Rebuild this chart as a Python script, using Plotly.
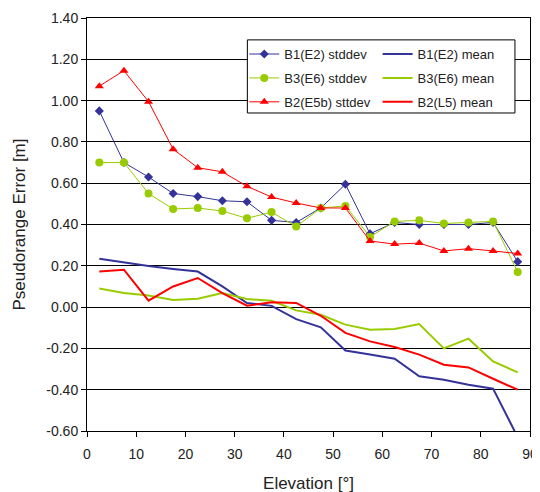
import plotly.graph_objects as go

elevation = [2.5, 7.5, 12.5, 17.5, 22.5, 27.5, 32.5, 37.5, 42.5, 47.5,
             52.5, 57.5, 62.5, 67.5, 72.5, 77.5, 82.5, 87.5]

b1_std = [0.95, 0.70, 0.63, 0.55, 0.535, 0.515, 0.51, 0.42, 0.41, 0.48,
          0.595, 0.355, 0.41, 0.40, 0.40, 0.40, 0.41, 0.22]
b3_std = [0.70, 0.70, 0.55, 0.475, 0.48, 0.465, 0.43, 0.46, 0.39, 0.48,
          0.49, 0.34, 0.415, 0.42, 0.405, 0.41, 0.415, 0.17]
b2_std = [1.07, 1.145, 0.995, 0.765, 0.675, 0.655, 0.585, 0.533, 0.504, 0.48,
          0.48, 0.32, 0.305, 0.31, 0.272, 0.283, 0.272, 0.259]

b1_mean = [0.234, 0.215, 0.199, 0.185, 0.172, 0.10, 0.02, 0.006, -0.058, -0.098,
           -0.21, -0.23, -0.25, -0.335, -0.352, -0.376, -0.395, -0.63]
b3_mean = [0.09, 0.068, 0.056, 0.034, 0.04, 0.068, 0.039, 0.031, -0.016, -0.037,
           -0.085, -0.11, -0.106, -0.082, -0.20, -0.153, -0.263, -0.316]
b2_mean = [0.173, 0.181, 0.031, 0.10, 0.141, 0.068, 0.007, 0.023, 0.02, -0.042,
           -0.125, -0.166, -0.193, -0.23, -0.279, -0.292, -0.347, -0.40]

y_ticks = [-0.6, -0.4, -0.2, 0.0, 0.2, 0.4, 0.6, 0.8, 1.0, 1.2, 1.4]
y_tick_text = ["-0.60", "-0.40", "-0.20", "0.00", "0.20", "0.40", "0.60",
               "0.80", "1.00", "1.20", "1.40"]
x_ticks = [0, 10, 20, 30, 40, 50, 60, 70, 80, 90]

BLUE = "#333399"
GREEN = "#99cc00"
RED = "#ff0000"

fig = go.Figure()
# stddev series -> legend (left column)
fig.add_trace(go.Scatter(x=elevation, y=b1_std, name="B1(E2) stddev", mode="lines+markers",
                         legend="legend", legendgroup="s1",
                         line=dict(color=BLUE, width=1),
                         marker=dict(symbol="diamond", size=7, color=BLUE)))
fig.add_trace(go.Scatter(x=elevation, y=b3_std, name="B3(E6) stddev", mode="lines+markers",
                         legend="legend", legendgroup="s2",
                         line=dict(color=GREEN, width=1),
                         marker=dict(symbol="circle", size=8, color=GREEN)))
fig.add_trace(go.Scatter(x=elevation, y=b2_std, name="B2(E5b) sttdev", mode="lines+markers",
                         legend="legend", legendgroup="s3",
                         line=dict(color=RED, width=1),
                         marker=dict(symbol="triangle-up", size=8, color=RED)))
# mean series -> legend2 (right column)
fig.add_trace(go.Scatter(x=elevation, y=b1_mean, name="B1(E2) mean", mode="lines",
                         legend="legend2", legendgroup="m1",
                         line=dict(color=BLUE, width=2)))
fig.add_trace(go.Scatter(x=elevation, y=b3_mean, name="B3(E6) mean", mode="lines",
                         legend="legend2", legendgroup="m2",
                         line=dict(color=GREEN, width=2)))
fig.add_trace(go.Scatter(x=elevation, y=b2_mean, name="B2(L5) mean", mode="lines",
                         legend="legend2", legendgroup="m3",
                         line=dict(color=RED, width=2)))

legend_common = dict(
    xanchor="left", yanchor="top", orientation="v",
    bgcolor="rgba(0,0,0,0)", borderwidth=0,
    font=dict(size=13, color="#222222"), tracegroupgap=4, traceorder="grouped",
)

fig.update_layout(
    width=540, height=492,
    margin=dict(l=79, r=18, t=10, b=69, autoexpand=False),
    paper_bgcolor="white", plot_bgcolor="white",
    font=dict(family="Liberation Sans, Arial, sans-serif", size=14, color="#222222"),
    legend=dict(x=0.355, y=0.949, **legend_common),
    legend2=dict(x=0.656, y=0.949, **legend_common),
    shapes=[dict(type="rect", xref="paper", yref="paper",
                 x0=0.362, x1=0.966, y0=0.770, y1=0.947,
                 line=dict(color="black", width=1), fillcolor="white",
                 layer="above")],
    xaxis=dict(
        range=[0, 90], tickvals=x_ticks, showgrid=False, zeroline=False,
        showline=True, linecolor="black", linewidth=1, mirror=True,
        ticks="outside", ticklen=5, tickcolor="black", ticklabelstandoff=5,
        automargin=False,
        title=dict(text="Elevation [°]", standoff=16),
    ),
    yaxis=dict(
        range=[-0.6, 1.4], tickvals=y_ticks, ticktext=y_tick_text,
        showgrid=True, gridcolor="black", gridwidth=1, zeroline=False,
        showline=True, linecolor="black", linewidth=1, mirror=True,
        ticks="outside", ticklen=5, tickcolor="black",
        automargin=False,
        title=dict(text="Pseudorange Error [m]", standoff=16),
    ),
)

fig.write_html("out.html")
